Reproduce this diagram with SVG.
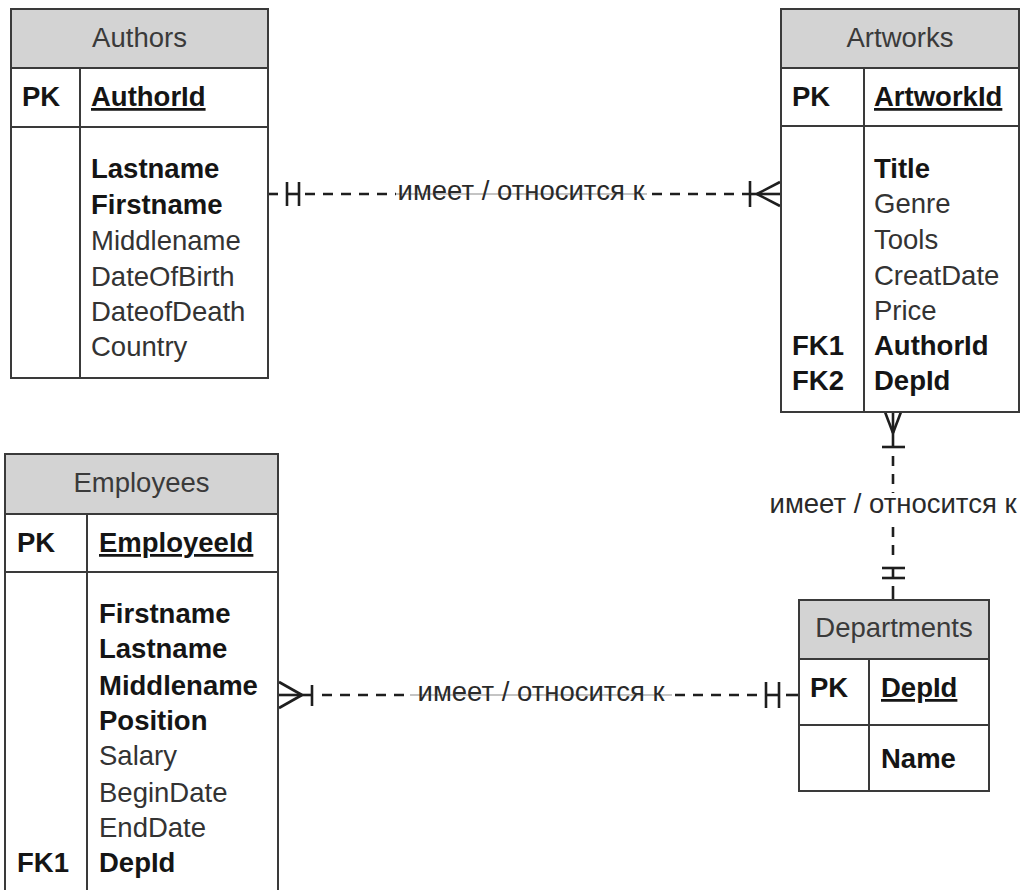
<svg xmlns="http://www.w3.org/2000/svg" width="1022" height="890" viewBox="0 0 1022 890">
<style>
.box{fill:#ffffff;stroke:#3a3a3a;stroke-width:2}
.hdr{fill:#d3d3d3;stroke:#3a3a3a;stroke-width:2}
.ln{stroke:#3a3a3a;stroke-width:2;fill:none}
text{font-family:"Liberation Sans",Arial,sans-serif;font-size:27.5px;fill:#333}
.h{text-anchor:middle;fill:#3a3a3a}
.b{font-weight:bold;fill:#151515}
.u{text-decoration:underline}
.lbl{fill:#2a2a2a}
.cn{stroke:#1e1e1e;stroke-width:2.6;fill:none}
.dash{stroke:#1e1e1e;stroke-width:2.6;fill:none;stroke-dasharray:10 8}
.gry{stroke:#c4c4c4;stroke-width:2;fill:none}
</style>
<rect width="1022" height="890" fill="#ffffff"/>

<g id="connectors">
  <!-- Authors - Artworks -->
  <line class="dash" x1="305" y1="194" x2="396" y2="194"/>
  <line class="gry" x1="396" y1="194" x2="647" y2="194"/>
  <line class="dash" x1="652" y1="194" x2="750" y2="194"/>
  <line class="cn" x1="268" y1="194" x2="278" y2="194"/>
  <line class="cn" x1="287" y1="182" x2="287" y2="206"/>
  <line class="cn" x1="299" y1="182" x2="299" y2="206"/>
  <line class="cn" x1="287" y1="194" x2="299" y2="194"/>
  <line class="cn" x1="750" y1="181" x2="750" y2="207"/>
  <line class="cn" x1="750" y1="194" x2="780" y2="194"/>
  <line class="cn" x1="757" y1="194" x2="780" y2="182"/>
  <line class="cn" x1="757" y1="194" x2="780" y2="206"/>
  <text class="lbl" x="521" y="200" text-anchor="middle">имеет / относится к</text>

  <!-- Employees - Departments -->
  <line class="cn" x1="279" y1="695" x2="302" y2="695"/>
  <line class="cn" x1="279" y1="682" x2="302" y2="695"/>
  <line class="cn" x1="279" y1="708" x2="302" y2="695"/>
  <line class="cn" x1="302" y1="695" x2="312" y2="695"/>
  <line class="cn" x1="312" y1="685" x2="312" y2="706"/>
  <line class="dash" x1="322" y1="695" x2="410" y2="695"/>
  <line class="gry" x1="410" y1="695" x2="672" y2="695"/>
  <line class="dash" x1="675" y1="695" x2="766" y2="695"/>
  <line class="cn" x1="766" y1="682" x2="766" y2="708"/>
  <line class="cn" x1="779" y1="682" x2="779" y2="708"/>
  <line class="cn" x1="766" y1="695" x2="779" y2="695"/>
  <line class="cn" x1="786" y1="695" x2="799" y2="695"/>
  <text class="lbl" x="541" y="701" text-anchor="middle">имеет / относится к</text>

  <!-- Artworks - Departments -->
  <line class="cn" x1="893" y1="412" x2="893" y2="447"/>
  <line class="cn" x1="885" y1="412" x2="893" y2="433"/>
  <line class="cn" x1="901" y1="412" x2="893" y2="433"/>
  <line class="cn" x1="882" y1="447" x2="905" y2="447"/>
  <line class="dash" x1="893" y1="456" x2="893" y2="493"/>
  <line class="dash" x1="893" y1="527" x2="893" y2="560"/>
  <line class="cn" x1="882" y1="568" x2="905" y2="568"/>
  <line class="cn" x1="882" y1="578" x2="905" y2="578"/>
  <line class="cn" x1="893" y1="568" x2="893" y2="578"/>
  <line class="cn" x1="893" y1="586" x2="893" y2="600"/>
  <text class="lbl" x="893" y="513" text-anchor="middle">имеет / относится к</text>
</g>

<g id="authors">
  <rect class="box" x="11" y="9" width="257" height="369"/>
  <rect class="hdr" x="11" y="9" width="257" height="59"/>
  <line class="ln" x1="11" y1="127" x2="268" y2="127"/>
  <line class="ln" x1="80" y1="68" x2="80" y2="378"/>
  <text class="h" x="139.5" y="47">Authors</text>
  <text class="b" x="22" y="106">PK</text>
  <text class="b u" x="91" y="106">AuthorId</text>
  <text class="b" x="91" y="178">Lastname</text>
  <text class="b" x="91" y="214">Firstname</text>
  <text x="91" y="250">Middlename</text>
  <text x="91" y="286">DateOfBirth</text>
  <text x="91" y="321">DateofDeath</text>
  <text x="91" y="356">Country</text>
</g>

<g id="artworks">
  <rect class="box" x="781" y="9" width="238" height="403"/>
  <rect class="hdr" x="781" y="9" width="238" height="59"/>
  <line class="ln" x1="781" y1="126" x2="1019" y2="126"/>
  <line class="ln" x1="864" y1="68" x2="864" y2="412"/>
  <text class="h" x="900" y="47">Artworks</text>
  <text class="b" x="792" y="106">PK</text>
  <text class="b u" x="874" y="106">ArtworkId</text>
  <text class="b" x="874" y="178">Title</text>
  <text x="874" y="213">Genre</text>
  <text x="874" y="249">Tools</text>
  <text x="874" y="285">CreatDate</text>
  <text x="874" y="320">Price</text>
  <text class="b" x="792" y="355">FK1</text>
  <text class="b" x="874" y="355">AuthorId</text>
  <text class="b" x="792" y="390">FK2</text>
  <text class="b" x="874" y="390">DepId</text>
</g>

<g id="employees">
  <rect class="box" x="5" y="454" width="273" height="450"/>
  <rect class="hdr" x="5" y="454" width="273" height="60"/>
  <line class="ln" x1="5" y1="572" x2="278" y2="572"/>
  <line class="ln" x1="87" y1="514" x2="87" y2="904"/>
  <text class="h" x="141.5" y="492">Employees</text>
  <text class="b" x="17" y="552">PK</text>
  <text class="b u" x="99" y="552">EmployeeId</text>
  <text class="b" x="99" y="623">Firstname</text>
  <text class="b" x="99" y="658">Lastname</text>
  <text class="b" x="99" y="695">Middlename</text>
  <text class="b" x="99" y="730">Position</text>
  <text x="99" y="765">Salary</text>
  <text x="99" y="802">BeginDate</text>
  <text x="99" y="837">EndDate</text>
  <text class="b" x="17" y="872">FK1</text>
  <text class="b" x="99" y="872">DepId</text>
</g>

<g id="departments">
  <rect class="box" x="799" y="600" width="190" height="191"/>
  <rect class="hdr" x="799" y="600" width="190" height="59"/>
  <line class="ln" x1="799" y1="725" x2="989" y2="725"/>
  <line class="ln" x1="869" y1="659" x2="869" y2="791"/>
  <text class="h" x="894" y="637">Departments</text>
  <text class="b" x="810" y="697">PK</text>
  <text class="b u" x="881" y="697">DepId</text>
  <text class="b" x="881" y="768">Name</text>
</g>
</svg>
